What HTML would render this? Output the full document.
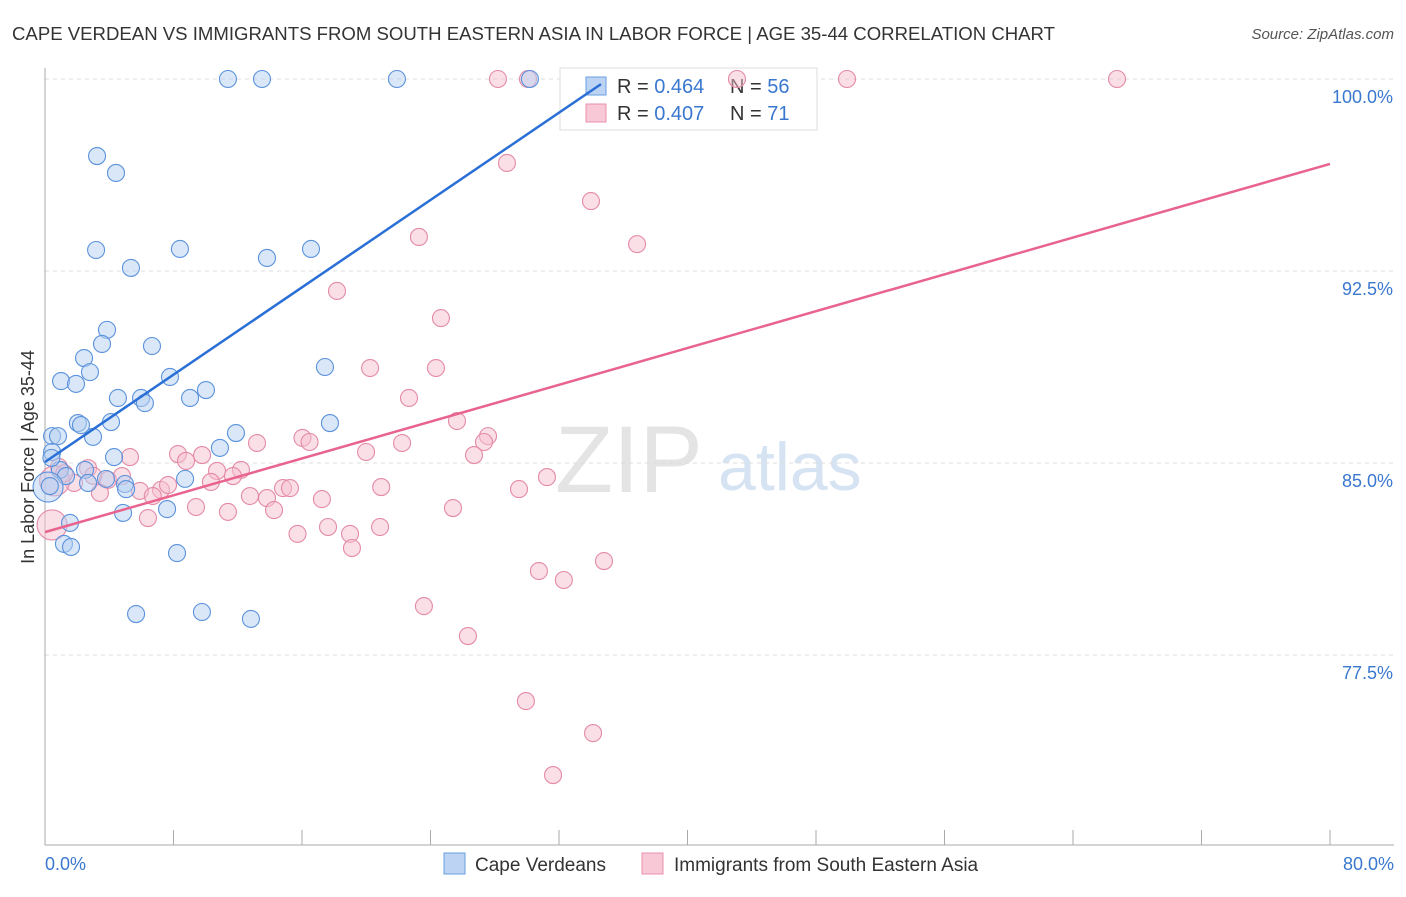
<!DOCTYPE html>
<html><head><meta charset="utf-8"><style>
body{margin:0;background:#fff;font-family:"Liberation Sans",sans-serif;}
svg text{font-family:"Liberation Sans",sans-serif;}
</style></head><body>
<svg id="chart" width="1406" height="892" viewBox="0 0 1406 892">
<text x="12" y="40" font-size="18" fill="#333" textLength="1043" lengthAdjust="spacingAndGlyphs">CAPE VERDEAN VS IMMIGRANTS FROM SOUTH EASTERN ASIA IN LABOR FORCE | AGE 35-44 CORRELATION CHART</text>
<text x="1394" y="39" font-size="15" fill="#555" text-anchor="end" font-style="italic">Source: ZipAtlas.com</text>
<text x="555" y="492" font-size="95" fill="#e4e4e4" font-family="Liberation Serif">ZIP</text>
<text x="718" y="490" font-size="68" fill="#d6e3f3">atlas</text>
<g id="grid"></g><g id="axes"></g>
<g>
<rect x="560" y="68" width="257" height="62" fill="#fff" stroke="#ddd"/>
<rect x="586" y="77" width="20" height="18" fill="#bcd3f3" stroke="#6a9ee0"/>
<rect x="586" y="104" width="20" height="18" fill="#f8c8d6" stroke="#e890ac"/>
<text x="617" y="93" font-size="20" fill="#333">R = <tspan fill="#3a78d0">0.464</tspan></text>
<text x="730" y="93" font-size="20" fill="#333">N = <tspan fill="#3a78d0">56</tspan></text>
<text x="617" y="120" font-size="20" fill="#333">R = <tspan fill="#3a78d0">0.407</tspan></text>
<text x="730" y="120" font-size="20" fill="#333">N =  <tspan fill="#3a78d0">71</tspan></text>
</g>
<g id="marks"></g>
<text transform="translate(34,457) rotate(-90)" font-size="18" fill="#333" text-anchor="middle">In Labor Force | Age 35-44</text>
<text x="45" y="870" font-size="18" fill="#3a78d0">0.0%</text>
<text x="1394" y="870" font-size="18" fill="#3a78d0" text-anchor="end">80.0%</text>
<g>
<rect x="444" y="853" width="21" height="21" fill="#bcd3f3" stroke="#6a9ee0"/>
<text x="475" y="871" font-size="19" fill="#333">Cape Verdeans</text>
<rect x="642" y="853" width="21" height="21" fill="#f8c8d6" stroke="#e890ac"/>
<text x="674" y="871" font-size="19" fill="#333">Immigrants from South Eastern Asia</text>
</g>
</svg>
<script>
const yTicks=[100,92.5,85,77.5];
const yTickLabels=["100.0%","92.5%","85.0%","77.5%"];
const xTicks=[0,8,16,24,32,40,48,56,64,72,80];
const blueX=[11.39,13.51,21.91,30.19,3.24,4.42,3.18,8.40,5.35,13.82,16.56,3.86,2.43,3.55,6.66,2.80,1.00,1.93,7.78,17.43,4.54,5.98,6.22,9.03,10.02,2.05,2.24,4.11,17.74,0.44,0.81,2.99,11.89,0.44,10.89,4.30,0.93,1.31,2.49,2.68,3.80,4.98,5.05,8.72,0.19,4.86,7.60,1.56,1.18,1.62,8.22,5.67,9.77,12.82,0.4,0.3];
const blueY=[100,100,100,100,96.99,96.33,93.32,93.36,92.62,93.01,93.36,90.20,89.10,89.65,89.57,88.55,88.20,88.09,88.36,88.75,87.54,87.54,87.34,87.54,87.85,86.56,86.48,86.60,86.56,86.05,86.05,86.02,86.17,85.43,85.59,85.23,84.73,84.49,84.73,84.22,84.38,84.18,83.98,84.38,84.06,83.05,83.20,82.66,81.84,81.72,81.48,79.10,79.18,78.91,85.2,84.1];
const pinkX=[28.20,30.07,43.08,49.93,66.74,28.76,33.99,36.86,23.28,18.18,24.65,20.24,24.34,22.66,25.65,16.03,16.47,13.20,22.23,27.58,27.33,19.99,26.71,8.28,5.29,8.78,9.78,10.71,12.20,11.70,31.25,0.87,2.68,1.81,3.92,4.79,3.42,5.91,7.22,7.66,10.33,14.82,15.25,20.93,29.51,12.76,13.82,17.24,6.71,9.40,11.39,14.26,25.40,6.41,0.44,17.62,20.86,15.72,18.99,19.11,30.75,32.30,34.80,23.59,26.33,29.94,34.12,31.63,0.6,1.2,3.0];
const pinkY=[100,100,100,100,100,96.72,95.23,93.55,93.83,91.72,90.66,88.71,88.71,87.54,86.64,85.98,85.82,85.78,85.78,86.05,85.82,85.43,85.31,85.35,85.23,85.08,85.31,84.69,84.73,84.49,84.45,84.84,84.80,84.22,84.34,84.49,83.83,83.91,83.95,84.14,84.26,84.02,84.02,84.06,83.98,83.71,83.63,83.59,83.71,83.28,83.09,83.16,83.24,82.85,82.58,82.50,82.50,82.23,82.23,81.68,80.78,80.43,81.17,79.41,78.24,75.70,74.45,72.81,84.3,84.6,84.5];
const blueLine=[85.04,0.4264];
const pinkLine=[82.30,0.1798];
const blueBig=[44], pinkBig=[54,68];
const NS='http://www.w3.org/2000/svg';
const X=v=>45+v/80*1285;
const Y=v=>79+(100-v)/7.5*192;
function mk(t,a,p){const e=document.createElementNS(NS,t);for(const k in a)e.setAttribute(k,a[k]);p.appendChild(e);return e;}
const grid=document.getElementById('grid'),axes=document.getElementById('axes'),marks=document.getElementById('marks');
yTicks.forEach((t,i)=>{
 const l=mk('line',{x1:45,x2:1394,y1:Y(t),y2:Y(t),stroke:'#ddd','stroke-dasharray':'4,4'},grid);
 
 
 const tx=mk('text',{x:1393,y:Y(t)+24,'font-size':18,fill:'#3a78d0','text-anchor':'end'},axes);
 tx.textContent=yTickLabels[i];
 
 
});
const ax=mk('line',{x1:45,x2:45,y1:68,y2:845,stroke:'#aaa'},axes);


const bx=mk('line',{x1:45,x2:1394,y1:845,y2:845,stroke:'#aaa'},axes);


xTicks.forEach(t=>{
 const l=mk('line',{x1:X(t),x2:X(t),y1:830,y2:845,stroke:'#aaa'},axes);
 
 
});
function pts(xs,ys,big,fill,stroke,name){
 xs.forEach((x,i)=>{
  const r=big.includes(i)?15:8.5;
  const c=mk('circle',{cx:X(x),cy:Y(ys[i]),r:r,fill:fill,'fill-opacity':0.5,stroke:stroke,'stroke-width':1.1},marks);
  
  
 });
}
pts(pinkX,pinkY,pinkBig,'#f6c0cf','#e48aa6','point-se-asia');
pts(blueX,blueY,blueBig,'#b5cff2','#5a92dc','point-cape-verdean');
const bEnd=(99.8-blueLine[0])/blueLine[1];
const bl=mk('line',{x1:X(0),y1:Y(blueLine[0]),x2:X(bEnd),y2:Y(blueLine[0]+blueLine[1]*bEnd),stroke:'#2a6fd6','stroke-width':2.5},marks);


const pl=mk('line',{x1:X(0),y1:Y(pinkLine[0]),x2:X(80),y2:Y(pinkLine[0]+pinkLine[1]*80),stroke:'#e8648f','stroke-width':2.5},marks);


</script>
</body></html>
